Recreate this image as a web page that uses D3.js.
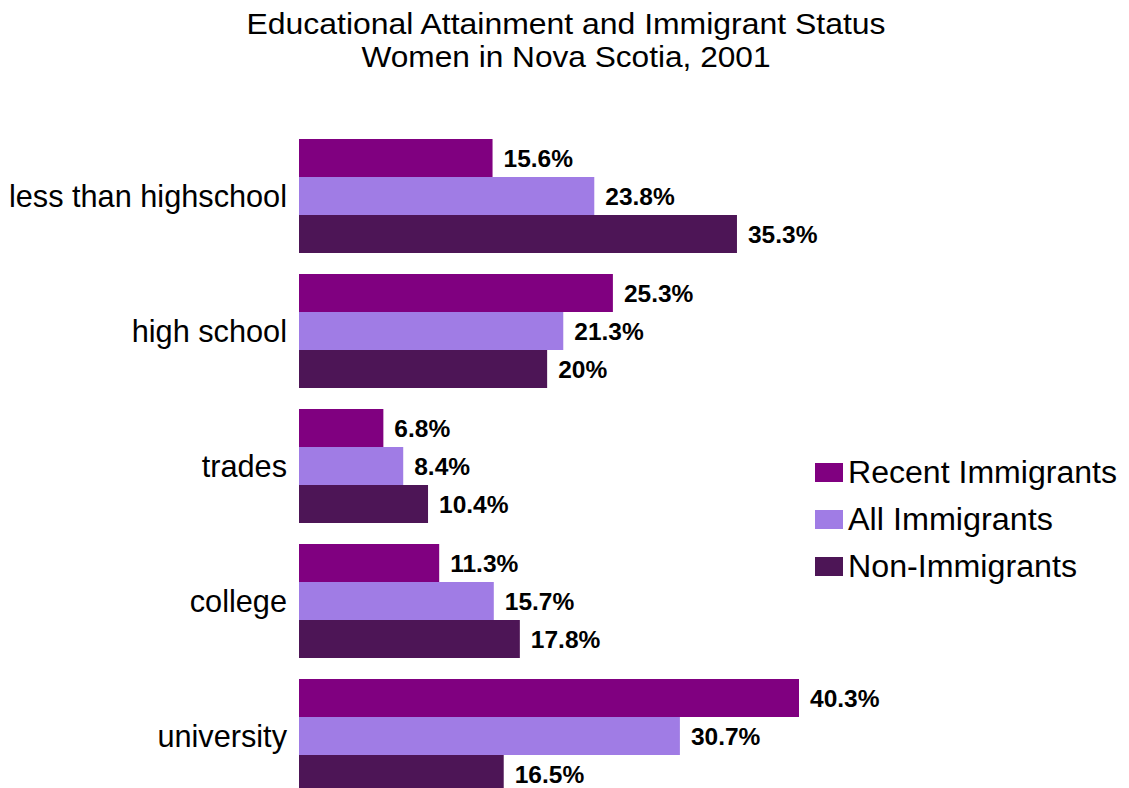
<!DOCTYPE html>
<html>
<head>
<meta charset="utf-8">
<script src="https://cdn.jsdelivr.net/npm/d3@7"></script>
<style>
  html, body { margin: 0; padding: 0; background: #fff; }
  svg { display: block; font-family: "Liberation Sans", Arial, sans-serif; }
</style>
</head>
<body>
<svg id="chart" width="1129" height="788"></svg>
<script>
// Education levels (top to bottom)
const categories = ["less than highschool", "high school", "trades", "college", "university"];
const seriesNames = ["Recent Immigrants", "All Immigrants", "Non-Immigrants"];
const seriesColors = ["#800080", "#A07CE5", "#4D1556"];

// Share of women (%) by education level
const recentImmigrants = [15.6, 25.3, 6.8, 11.3, 40.3];
const allImmigrants    = [23.8, 21.3, 8.4, 15.7, 30.7];
const nonImmigrants    = [35.3, 20, 10.4, 17.8, 16.5];
const seriesValues = [recentImmigrants, allImmigrants, nonImmigrants];

const titleLines = ["Educational Attainment and Immigrant Status", "Women in Nova Scotia, 2001"];

const svg = d3.select("#chart");

// Title
svg.append("g").selectAll("text")
  .data(titleLines)
  .join("text")
  .attr("x", 566)
  .attr("y", (d, i) => 34 + i * 33)
  .attr("text-anchor", "middle")
  .attr("font-size", 29)
  .attr("textLength", (d, i) => [639, 409][i])
  .attr("lengthAdjust", "spacingAndGlyphs")
  .attr("fill", "#000")
  .text(d => d);

// Scales
const gap = 21 / 135;
const y0 = d3.scaleBand()
  .domain(categories)
  .range([128.5, 803.5])
  .paddingInner(gap)
  .paddingOuter(gap / 2);

const y1 = d3.scaleBand()
  .domain(seriesNames)
  .range([0, y0.bandwidth()]);

const x = d3.scaleLinear()
  .domain([0, 50])
  .range([299, 299 + 50 * (500 / 40.3)]);

const color = d3.scaleOrdinal().domain(seriesNames).range(seriesColors);

const rows = categories.map((c, ci) => ({
  category: c,
  values: seriesNames.map((s, si) => ({ series: s, value: seriesValues[si][ci] }))
}));

const groups = svg.append("g").selectAll("g")
  .data(rows)
  .join("g")
  .attr("transform", d => `translate(0,${y0(d.category)})`);

groups.selectAll("rect")
  .data(d => d.values)
  .join("rect")
  .attr("x", x(0))
  .attr("y", d => y1(d.series))
  .attr("width", d => x(d.value) - x(0))
  .attr("height", y1.bandwidth())
  .attr("fill", d => color(d.series));

groups.selectAll("text.value")
  .data(d => d.values)
  .join("text")
  .attr("class", "value")
  .attr("x", d => x(d.value) + 11)
  .attr("y", d => y1(d.series) + y1.bandwidth() / 2)
  .attr("dy", "0.35em")
  .attr("font-size", 24.5)
  .attr("font-weight", "bold")
  .attr("fill", "#000")
  .text(d => d.value + "%");

// Category axis labels
const yAxis = d3.axisLeft(y0).tickSize(0).tickPadding(12);
const axisG = svg.append("g")
  .attr("transform", `translate(${x(0)},0)`)
  .call(yAxis);
axisG.select(".domain").remove();
axisG.selectAll("text")
  .attr("font-size", 30.7)
  .attr("font-family", "\"Liberation Sans\", Arial, sans-serif")
  .attr("fill", "#000")
  .attr("dy", "0.35em");

// Legend
const legend = svg.append("g").selectAll("g")
  .data(seriesNames)
  .join("g")
  .attr("transform", (d, i) => `translate(815,${483 + i * 47})`);

legend.append("rect")
  .attr("x", 0)
  .attr("y", -20)
  .attr("width", 28)
  .attr("height", 19)
  .attr("fill", d => color(d));

legend.append("text")
  .attr("x", 33)
  .attr("y", 0)
  .attr("font-size", 31)
  .attr("textLength", (d, i) => [269, 205, 229][i])
  .attr("lengthAdjust", "spacingAndGlyphs")
  .attr("fill", "#000")
  .text(d => d);
</script>
</body>
</html>
